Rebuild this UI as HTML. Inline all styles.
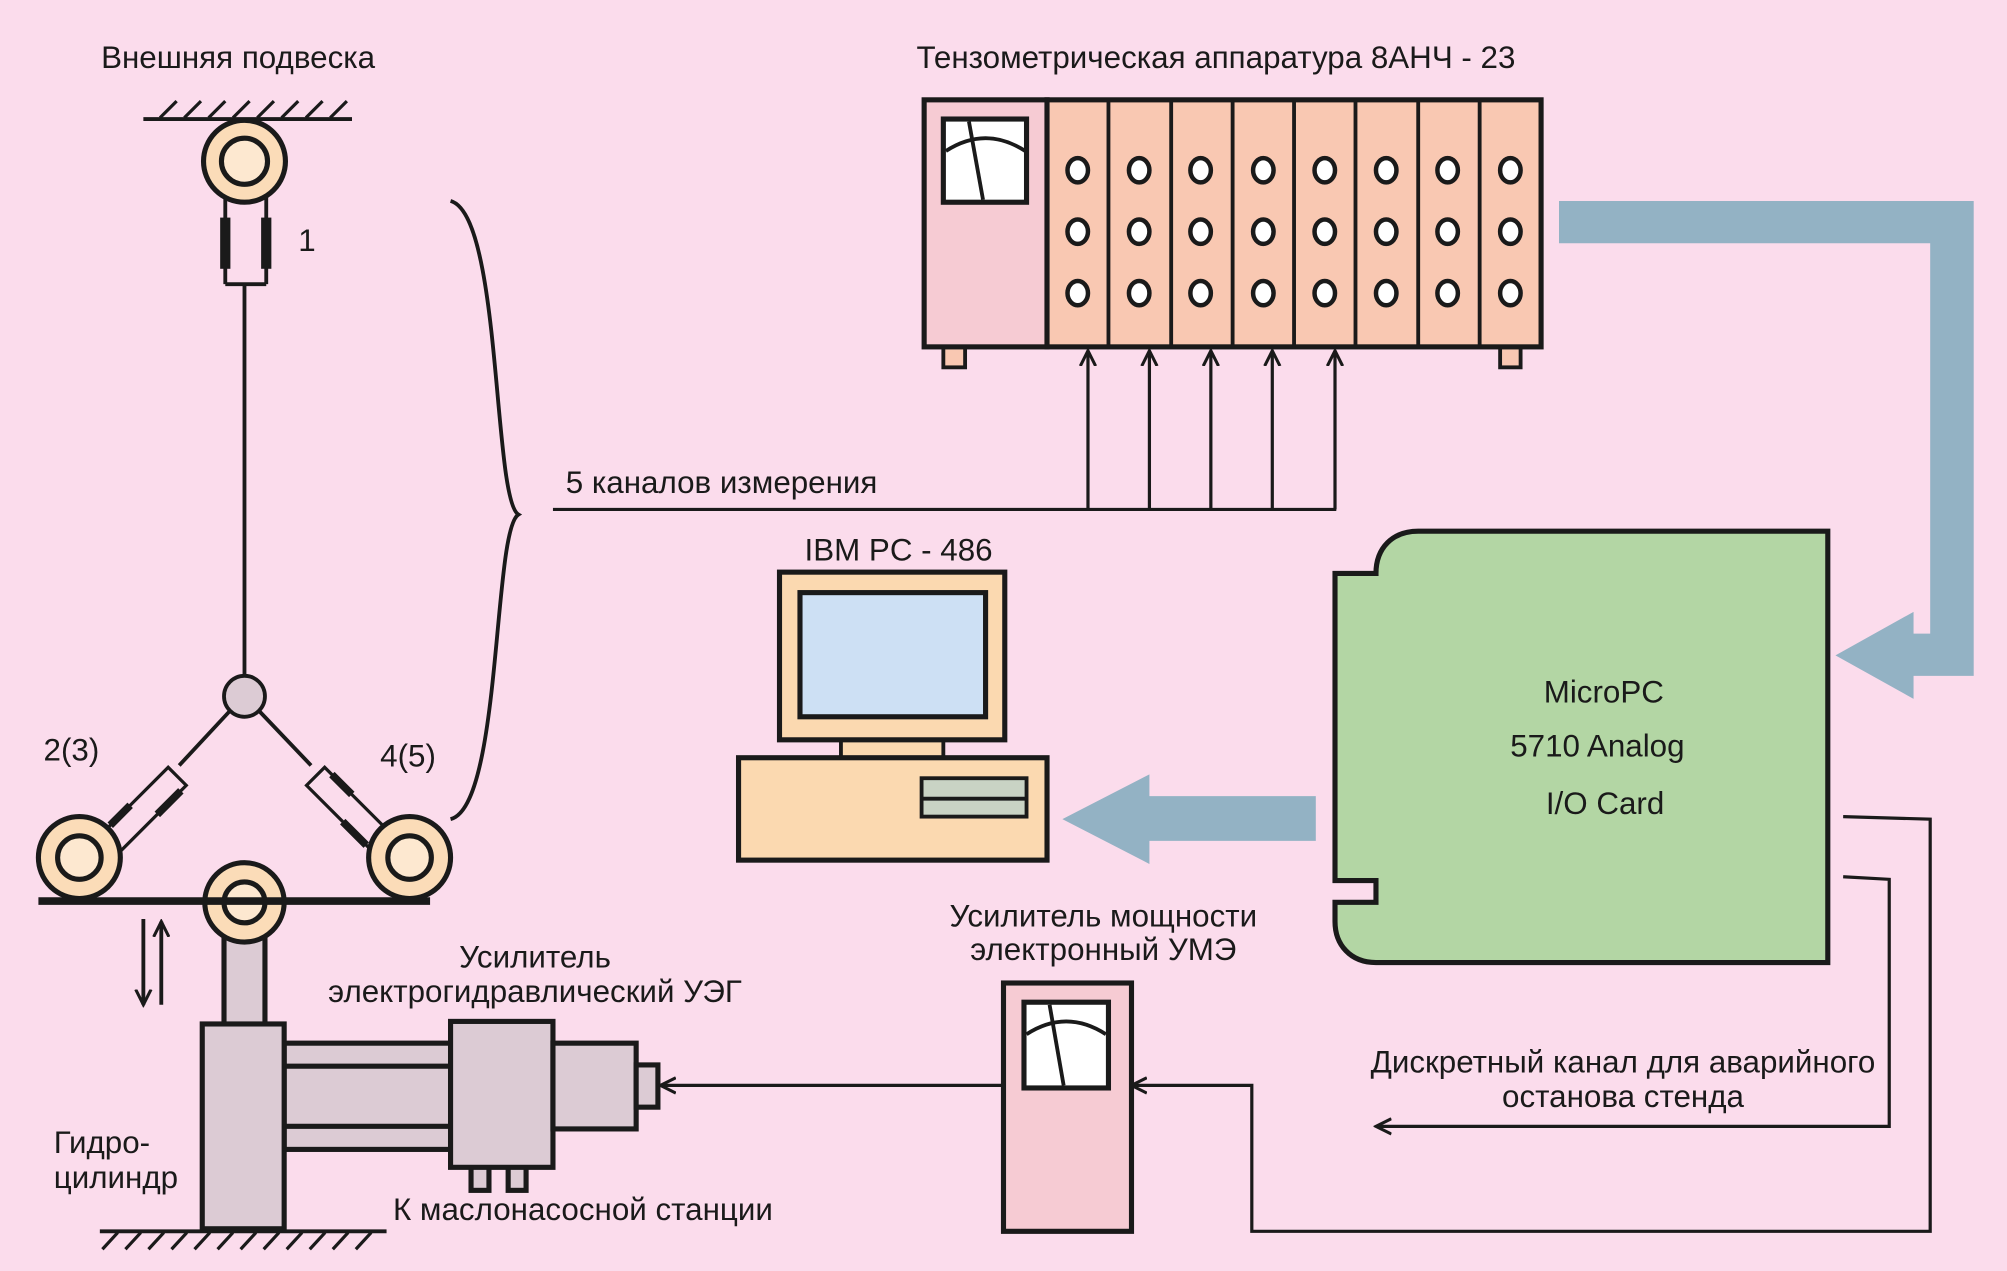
<!DOCTYPE html>
<html><head><meta charset="utf-8"><style>
html,body{margin:0;padding:0;background:#fbdcec;}
svg{display:block}
text{font-family:"Liberation Sans",sans-serif;font-size:24.5px;fill:#1a1a1a}
</style></head><body>
<svg width="2007" height="1271" viewBox="0 0 1568 993" xmlns="http://www.w3.org/2000/svg">
<defs>
<marker id="ah" markerWidth="14" markerHeight="14" refX="12" refY="7" orient="auto" markerUnits="userSpaceOnUse">
<path d="M0,1 L12,7 L0,13" fill="none" stroke="#1a1a1a" stroke-width="2.4"/>
</marker>
</defs>
<rect width="1568" height="993" fill="#fbdcec"/>
<g stroke="#1a1a1a" fill="none">
<line x1="112" y1="93" x2="275" y2="93" stroke-width="3"/>
<g stroke-width="2.5">
<line x1="125" y1="92" x2="138" y2="79"/><line x1="144" y1="92" x2="157" y2="79"/><line x1="163" y1="92" x2="176" y2="79"/><line x1="182" y1="92" x2="195" y2="79"/><line x1="201" y1="92" x2="214" y2="79"/><line x1="220" y1="92" x2="233" y2="79"/><line x1="239" y1="92" x2="252" y2="79"/><line x1="258" y1="92" x2="271" y2="79"/>
</g>
<line x1="176" y1="150" x2="176" y2="222" stroke-width="3"/>
<line x1="208" y1="150" x2="208" y2="222" stroke-width="3"/>
<line x1="176" y1="222" x2="208" y2="222" stroke-width="3"/>
<rect x="172" y="170" width="8" height="40" fill="#1a1a1a" stroke="none"/>
<rect x="204" y="170" width="8" height="40" fill="#1a1a1a" stroke="none"/>
<circle cx="191" cy="126" r="32" fill="#fbdcb8" stroke-width="4"/>
<circle cx="191" cy="126" r="18" fill="#fde8d0" stroke-width="4"/>
<line x1="191" y1="222" x2="191" y2="530" stroke-width="3"/>
<line x1="180" y1="555" x2="140" y2="598" stroke-width="3"/>
<line x1="202" y1="555" x2="243" y2="598" stroke-width="3"/>
<g transform="translate(113,632) rotate(-45)">
<rect x="-36" y="-10" width="72" height="20" stroke-width="2.5" fill="none"/>
<line x1="-50" y1="-10" x2="-36" y2="-10" stroke-width="2.5"/><line x1="-50" y1="10" x2="-36" y2="10" stroke-width="2.5"/>
<rect x="-28" y="-13" width="22" height="6" fill="#1a1a1a" stroke="none"/>
<rect x="4" y="7" width="26" height="6" fill="#1a1a1a" stroke="none"/>
</g>
<g transform="translate(272,632) rotate(45)">
<rect x="-36" y="-10" width="72" height="20" stroke-width="2.5" fill="none"/>
<line x1="36" y1="-10" x2="50" y2="-10" stroke-width="2.5"/><line x1="36" y1="10" x2="50" y2="10" stroke-width="2.5"/>
<rect x="-28" y="-13" width="22" height="6" fill="#1a1a1a" stroke="none"/>
<rect x="4" y="7" width="26" height="6" fill="#1a1a1a" stroke="none"/>
</g>
<circle cx="191" cy="544" r="16" fill="#dccbd4" stroke-width="3"/>
<circle cx="62" cy="670" r="32" fill="#fbdcb8" stroke-width="4"/>
<circle cx="62" cy="670" r="17" fill="#fde8d0" stroke-width="4"/>
<circle cx="320" cy="670" r="32" fill="#fbdcb8" stroke-width="4"/>
<circle cx="320" cy="670" r="17" fill="#fde8d0" stroke-width="4"/>
<rect x="175" y="725" width="32" height="76" fill="#dccbd4" stroke-width="4"/>
<circle cx="191" cy="705" r="31" fill="#fbdcb8" stroke-width="4"/>
<circle cx="191" cy="705" r="16" fill="#fde8d0" stroke-width="4"/>
<line x1="30" y1="704" x2="336" y2="704" stroke-width="6"/>
<rect x="222" y="815" width="130" height="83" fill="#dccbd4" stroke-width="4"/>
<line x1="222" y1="833" x2="352" y2="833" stroke-width="4"/>
<line x1="222" y1="880" x2="352" y2="880" stroke-width="4"/>
<rect x="158" y="800" width="64" height="160" fill="#dccbd4" stroke-width="4"/>
<rect x="368" y="910" width="14" height="20" fill="#dccbd4" stroke-width="4"/>
<rect x="397" y="910" width="14" height="20" fill="#dccbd4" stroke-width="4"/>
<rect x="352" y="798" width="80" height="114" fill="#dccbd4" stroke-width="4"/>
<rect x="432" y="815" width="65" height="67" fill="#dccbd4" stroke-width="4"/>
<rect x="497" y="832" width="17" height="33" fill="#dccbd4" stroke-width="4"/>
<line x1="78" y1="962" x2="302" y2="962" stroke-width="3"/>
<g stroke-width="2.5">
<line x1="92" y1="963" x2="80" y2="976"/><line x1="110" y1="963" x2="98" y2="976"/><line x1="128" y1="963" x2="116" y2="976"/><line x1="146" y1="963" x2="134" y2="976"/><line x1="164" y1="963" x2="152" y2="976"/><line x1="182" y1="963" x2="170" y2="976"/><line x1="200" y1="963" x2="188" y2="976"/><line x1="218" y1="963" x2="206" y2="976"/><line x1="236" y1="963" x2="224" y2="976"/><line x1="254" y1="963" x2="242" y2="976"/><line x1="272" y1="963" x2="260" y2="976"/><line x1="290" y1="963" x2="278" y2="976"/>
</g>
<line x1="112" y1="718" x2="112" y2="785" stroke-width="3" marker-end="url(#ah)"/>
<line x1="126" y1="785" x2="126" y2="720" stroke-width="3" marker-end="url(#ah)"/>
<path d="M352,157 C392,168 385,390 405,402 C385,414 392,630 352,640" stroke-width="3"/>
<line x1="432" y1="398" x2="1044" y2="398" stroke-width="2.5"/>
<g stroke-width="2.5" marker-end="url(#ah)">
<line x1="850" y1="398" x2="850" y2="274"/><line x1="898" y1="398" x2="898" y2="274"/><line x1="946" y1="398" x2="946" y2="274"/><line x1="994" y1="398" x2="994" y2="274"/><line x1="1043" y1="398" x2="1043" y2="274"/>
</g>
<rect x="737" y="271" width="17" height="16" fill="#f9c8b2" stroke-width="3"/>
<rect x="1172" y="271" width="16" height="16" fill="#f9c8b2" stroke-width="3"/>
<rect x="722" y="78" width="96" height="193" fill="#f6cbd3" stroke-width="4"/>
<rect x="818" y="78" width="386" height="193" fill="#f9c8b2" stroke-width="4"/>
<g stroke-width="3">
<line x1="866" y1="78" x2="866" y2="271"/><line x1="915" y1="78" x2="915" y2="271"/><line x1="963" y1="78" x2="963" y2="271"/><line x1="1011" y1="78" x2="1011" y2="271"/><line x1="1059" y1="78" x2="1059" y2="271"/><line x1="1108" y1="78" x2="1108" y2="271"/><line x1="1156" y1="78" x2="1156" y2="271"/>
</g>
<rect x="737" y="93" width="65" height="65" fill="#fff" stroke-width="4"/>
<path d="M739,118 Q770,98 801,118" stroke-width="3"/>
<line x1="757" y1="95" x2="768" y2="156" stroke-width="3"/>
<g fill="#fff" stroke-width="3.5">
<ellipse cx="842" cy="133" rx="8" ry="9.5"/><ellipse cx="890" cy="133" rx="8" ry="9.5"/><ellipse cx="938" cy="133" rx="8" ry="9.5"/><ellipse cx="987" cy="133" rx="8" ry="9.5"/><ellipse cx="1035" cy="133" rx="8" ry="9.5"/><ellipse cx="1083" cy="133" rx="8" ry="9.5"/><ellipse cx="1131" cy="133" rx="8" ry="9.5"/><ellipse cx="1180" cy="133" rx="8" ry="9.5"/>
<ellipse cx="842" cy="181" rx="8" ry="9.5"/><ellipse cx="890" cy="181" rx="8" ry="9.5"/><ellipse cx="938" cy="181" rx="8" ry="9.5"/><ellipse cx="987" cy="181" rx="8" ry="9.5"/><ellipse cx="1035" cy="181" rx="8" ry="9.5"/><ellipse cx="1083" cy="181" rx="8" ry="9.5"/><ellipse cx="1131" cy="181" rx="8" ry="9.5"/><ellipse cx="1180" cy="181" rx="8" ry="9.5"/>
<ellipse cx="842" cy="229" rx="8" ry="9.5"/><ellipse cx="890" cy="229" rx="8" ry="9.5"/><ellipse cx="938" cy="229" rx="8" ry="9.5"/><ellipse cx="987" cy="229" rx="8" ry="9.5"/><ellipse cx="1035" cy="229" rx="8" ry="9.5"/><ellipse cx="1083" cy="229" rx="8" ry="9.5"/><ellipse cx="1131" cy="229" rx="8" ry="9.5"/><ellipse cx="1180" cy="229" rx="8" ry="9.5"/>
</g>
</g>
<path d="M1218,157 L1542,157 L1542,528 L1495,528 L1495,546 L1434,512 L1495,478 L1495,495 L1508,495 L1508,190 L1218,190 Z" fill="#93b2c4"/>
<path d="M1028,622 L898,622 L898,605 L830,640 L898,675 L898,657 L1028,657 Z" fill="#93b2c4"/>
<g stroke="#1a1a1a" fill="none">
<path d="M1043,448 L1075,448 C1075,428 1088,415 1108,415 L1428,415 L1428,752 L1075,752 C1055,752 1043,738 1043,720 L1043,705 L1075,705 L1075,688 L1043,688 Z" fill="#b3d6a4" stroke-width="4"/>
<polyline points="1440,638 1508,640 1508,962 978,962 978,848 884,848" stroke-width="2.5" marker-end="url(#ah)"/>
<polyline points="1440,685 1476,687 1476,880 1075,880" stroke-width="2.5" marker-end="url(#ah)"/>
<line x1="784" y1="848" x2="516" y2="848" stroke-width="2.5" marker-end="url(#ah)"/>
<rect x="784" y="768" width="100" height="194" fill="#f6cbd3" stroke-width="4"/>
<rect x="800" y="783" width="66" height="67" fill="#fff" stroke-width="4"/>
<path d="M802,808 Q833,788 864,808" stroke-width="3"/>
<line x1="820" y1="785" x2="831" y2="848" stroke-width="3"/>
<rect x="657" y="576" width="80" height="17" fill="#fbd9b0" stroke-width="3"/>
<rect x="609" y="447" width="176" height="131" fill="#fbd9b0" stroke-width="4"/>
<rect x="625" y="463" width="145" height="97" fill="#cde0f4" stroke-width="4"/>
<rect x="577" y="592" width="241" height="80" fill="#fbd9b0" stroke-width="4"/>
<rect x="720" y="608" width="82" height="30" fill="#c9d3c4" stroke-width="3"/>
<line x1="720" y1="624" x2="802" y2="624" stroke-width="3"/>
</g>
<text x="186" y="53" text-anchor="middle">Внешняя подвеска</text>
<text x="233" y="196">1</text>
<text x="34" y="594">2(3)</text>
<text x="297" y="599">4(5)</text>
<text x="950" y="53" text-anchor="middle">Тензометрическая аппаратура 8АНЧ - 23</text>
<text x="442" y="385">5 каналов измерения</text>
<text x="702" y="438" text-anchor="middle">IBM PC - 486</text>
<text x="1253" y="549" text-anchor="middle" font-size="26">MicroPC</text>
<text x="1248" y="591" text-anchor="middle" font-size="26">5710 Analog</text>
<text x="1254" y="636" text-anchor="middle" font-size="26">I/O Card</text>
<text x="862" y="724" text-anchor="middle">Усилитель мощности</text>
<text x="862" y="750" text-anchor="middle">электронный УМЭ</text>
<text x="418" y="756" text-anchor="middle">Усилитель</text>
<text x="418" y="783" text-anchor="middle">электрогидравлический УЭГ</text>
<text x="1268" y="838" text-anchor="middle">Дискретный канал для аварийного</text>
<text x="1268" y="865" text-anchor="middle">останова стенда</text>
<text x="42" y="901">Гидро-</text>
<text x="42" y="928">цилиндр</text>
<text x="307" y="953">К маслонасосной станции</text>
</svg>
</body></html>
